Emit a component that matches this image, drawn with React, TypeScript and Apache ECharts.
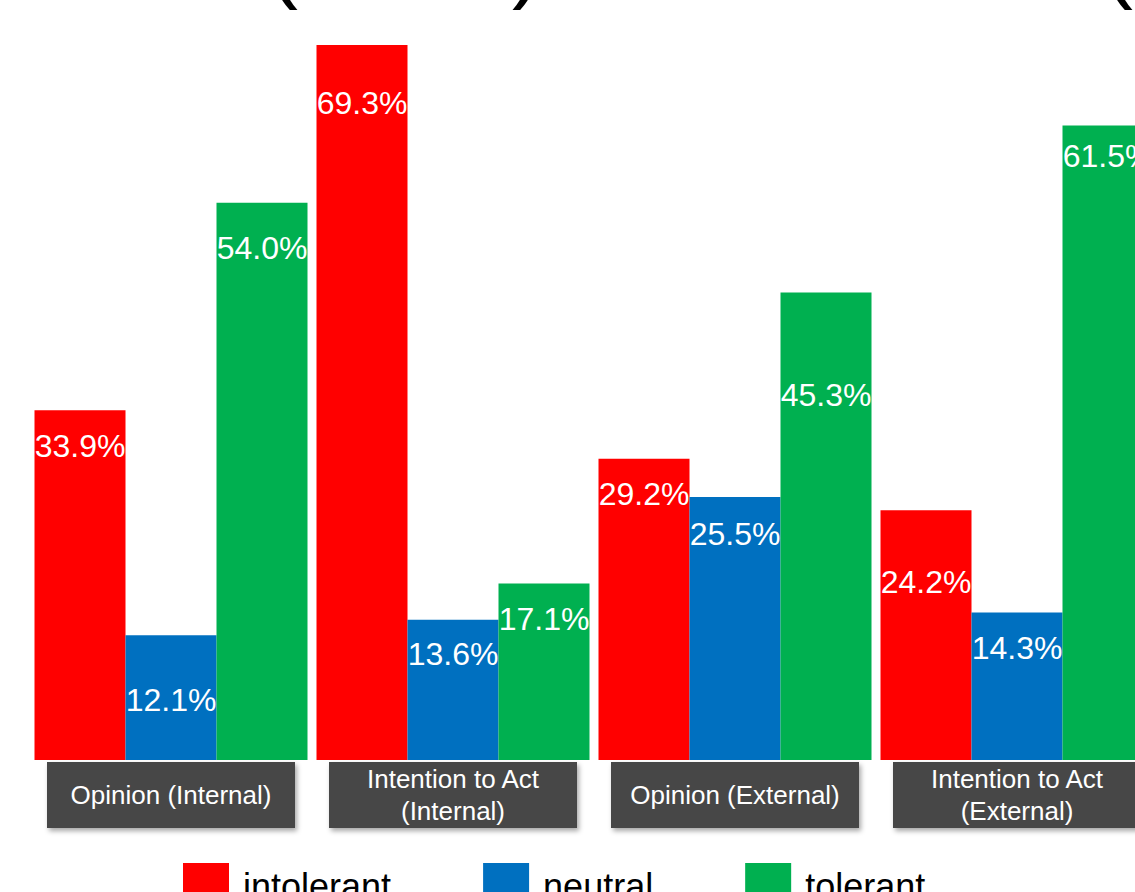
import React, { useEffect, useRef } from "react";
import * as echarts from "echarts";

// ---- data ----
const categories = [
  "Opinion (Internal)",
  "Intention to Act (Internal)",
  "Opinion (External)",
  "Intention to Act (External)",
];
const seriesNames = ["intolerant", "neutral", "tolerant"];
const intolerant = [33.9, 69.3, 29.2, 24.2];
const neutral = [12.1, 13.6, 25.5, 14.3];
const tolerant = [54.0, 17.1, 45.3, 61.5];
const titleGlyphs = ["(", ")", "("];

// ---- style / layout ----
const FONT = "'Liberation Sans', Arial, sans-serif";
const colors = ["#FF0000", "#0070C0", "#00B050"];
const labelShift = [
  [16, 38, 15, 52],
  [45, 14, 17, 16],
  [25, 15, 82, 11],
];
const titleX = [268, 512, 1103];

export default function App() {
  const ref = useRef<HTMLDivElement>(null);

  useEffect(() => {
    document.body.style.margin = "0";
    document.body.style.overflow = "hidden";
    const chart = echarts.init(ref.current!, undefined, { renderer: "svg" });
    const values = [intolerant, neutral, tolerant];

    const series = seriesNames.map((name, s) => ({
      name,
      type: "bar",
      barWidth: 91,
      barGap: "0%",
      itemStyle: { color: colors[s] },
      label: {
        show: true,
        position: "insideTop",
        distance: 4,
        color: "#FFFFFF",
        fontSize: 32,
        fontFamily: FONT,
        formatter: (p: any) => Number(p.value).toFixed(1) + "%",
      },
      data: values[s].map((v, i) => ({
        value: v,
        label: { offset: [0, labelShift[s][i]] },
      })),
    }));

    chart.setOption({
      animation: false,
      grid: { left: 30, right: 0, top: 45, bottom: 132, containLabel: false },
      xAxis: {
        type: "category",
        data: categories,
        axisLine: { show: false },
        axisTick: { show: false },
        axisLabel: {
          interval: 0,
          margin: 2,
          formatter: (v: string) => {
            const i = v.indexOf(" (");
            if (v.length > 20 && i > 0) {
              return `{two|${v.slice(0, i)}}\n{two|${v.slice(i + 1)}}`;
            }
            return `{one|${v}}`;
          },
          backgroundColor: "#474747",
          width: 238,
          padding: [1, 5],
          align: "center",
          verticalAlign: "top",
          shadowColor: "rgba(0,0,0,0.35)",
          shadowBlur: 5,
          shadowOffsetX: 2,
          shadowOffsetY: 3,
          rich: {
            one: {
              fontSize: 26,
              lineHeight: 64,
              color: "#FFFFFF",
              fontFamily: FONT,
              align: "center",
            },
            two: {
              fontSize: 26,
              lineHeight: 32,
              color: "#FFFFFF",
              fontFamily: FONT,
              align: "center",
            },
          },
        },
      },
      yAxis: { type: "value", min: 0, max: 69.3, show: false },
      legend: {
        data: seriesNames,
        left: 183,
        top: 856,
        padding: 0,
        itemWidth: 46,
        itemHeight: 46,
        itemGap: 92,
        icon: "rect",
        textStyle: {
          fontSize: 36,
          lineHeight: 40,
          fontFamily: FONT,
          color: "#000000",
          padding: [0, 0, 20, 9],
        },
      },
      graphic: titleGlyphs.map((g, i) => ({
        type: "text",
        x: titleX[i],
        y: -40,
        silent: true,
        style: {
          text: g,
          fontSize: 90,
          fontFamily: FONT,
          fill: "#000000",
          verticalAlign: "middle",
        },
      })),
      series,
    });

    return () => chart.dispose();
  }, []);

  return (
    <div
      ref={ref}
      style={{ position: "absolute", left: 0, top: 0, width: 1158, height: 892 }}
    />
  );
}
